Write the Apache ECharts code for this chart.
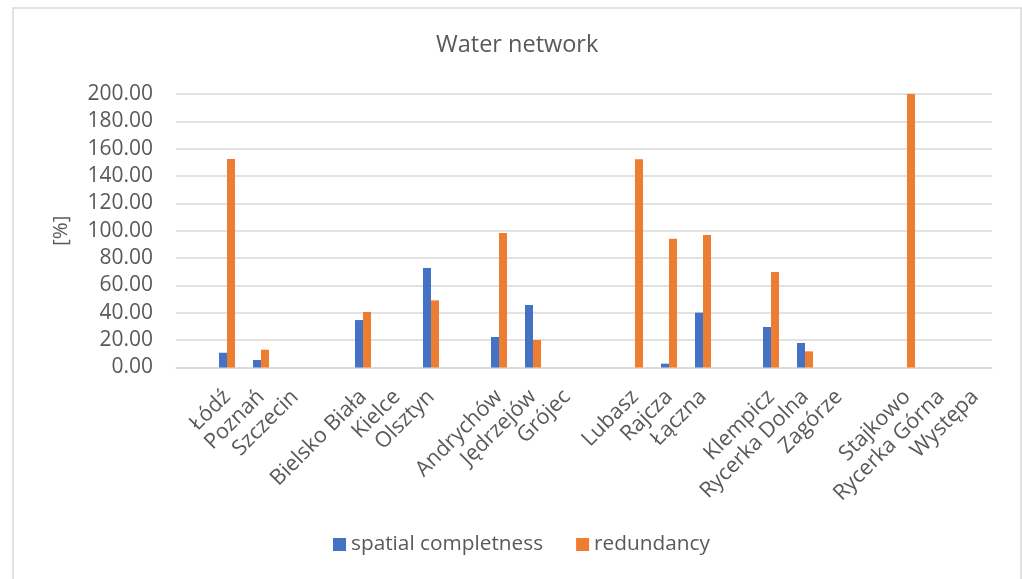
<!DOCTYPE html>
<html>
<head>
<meta charset="utf-8">
<script src="https://cdn.jsdelivr.net/npm/echarts@6/dist/echarts.min.js"></script>
<style>
  html, body { margin: 0; padding: 0; background: #ffffff; }
  #chart { width: 1022px; height: 579px; }
</style>
</head>
<body>
<div id="chart"></div>
<script>
// Towns grouped in threes; empty strings leave a blank slot between groups
const categories = [
  '', 'Łódź', 'Poznań', 'Szczecin',
  '', 'Bielsko Biała', 'Kielce', 'Olsztyn',
  '', 'Andrychów', 'Jędrzejów', 'Grójec',
  '', 'Lubasz', 'Rajcza', 'Łączna',
  '', 'Klempicz', 'Rycerka Dolna', 'Zagórze',
  '', 'Stajkowo', 'Rycerka Górna', 'Występa'
];

const spatialCompleteness = [
  null, 10.8, 5.5, 0,
  null, 34.7, 0, 72.8,
  null, 22.3, 45.7, 0,
  null, 0, 2.8, 40.1,
  null, 29.6, 17.9, 0,
  null, 0, 0, 0
];

const redundancy = [
  null, 152.5, 13.0, 0,
  null, 40.6, 0, 49.1,
  null, 98.4, 20.1, 0,
  null, 152.2, 94.2, 96.9,
  null, 69.8, 11.8, 0,
  null, 200.0, 0, 0
];

const yTicks = { min: 0, max: 200, interval: 20 };

const textColor = '#595959';
const fontFamily = '"Open Sans", "DejaVu Sans", sans-serif';

const chart = echarts.init(document.getElementById('chart'), null, { renderer: 'canvas' });

chart.setOption({
  animation: false,
  backgroundColor: '#ffffff',
  textStyle: { fontFamily: fontFamily, color: textColor },
  graphic: [{
    type: 'rect',
    shape: { x: 13, y: 8, width: 1008, height: 590 },
    style: { fill: 'none', stroke: '#d9d9d9', lineWidth: 1.5 },
    silent: true,
    z: -1
  }],
  title: {
    text: 'Water network',
    left: 431,
    top: 28,
    textStyle: { fontFamily: fontFamily, fontSize: 23.5, fontWeight: 'normal', color: textColor }
  },
  legend: {
    bottom: 19,
    left: 328,
    itemWidth: 13,
    itemHeight: 13,
    itemGap: 33,
    icon: 'rect',
    textStyle: { fontFamily: fontFamily, fontSize: 20.8, color: textColor },
    data: ['spatial completness', 'redundancy']
  },
  grid: {
    left: 176,
    right: 30,
    top: 94,
    height: 273.5,
    containLabel: false
  },
  xAxis: {
    type: 'category',
    data: categories,
    axisTick: { show: false },
    axisLine: { lineStyle: { color: '#d9d9d9', width: 1.5 } },
    axisLabel: {
      rotate: 45,
      interval: 0,
      margin: 26,
      fontFamily: fontFamily,
      fontSize: 21.5,
      color: textColor
    }
  },
  yAxis: {
    type: 'value',
    min: yTicks.min,
    max: yTicks.max,
    interval: yTicks.interval,
    name: '[%]',
    nameLocation: 'middle',
    nameRotate: 90,
    nameGap: 104,
    nameTextStyle: { fontFamily: fontFamily, fontSize: 20.5, color: textColor },
    axisLine: { show: false },
    axisTick: { show: false },
    splitLine: { lineStyle: { color: '#d9d9d9', width: 1.5 } },
    axisLabel: {
      margin: 23,
      fontFamily: fontFamily,
      fontSize: 21,
      color: textColor,
      formatter: v => v.toFixed(2)
    }
  },
  series: [
    {
      name: 'spatial completness',
      type: 'bar',
      data: spatialCompleteness,
      barWidth: 8,
      barGap: '0%',
      itemStyle: { color: '#4472C4' }
    },
    {
      name: 'redundancy',
      type: 'bar',
      data: redundancy,
      barWidth: 8,
      barGap: '0%',
      itemStyle: { color: '#ED7D31' }
    }
  ]
});
</script>
</body>
</html>
